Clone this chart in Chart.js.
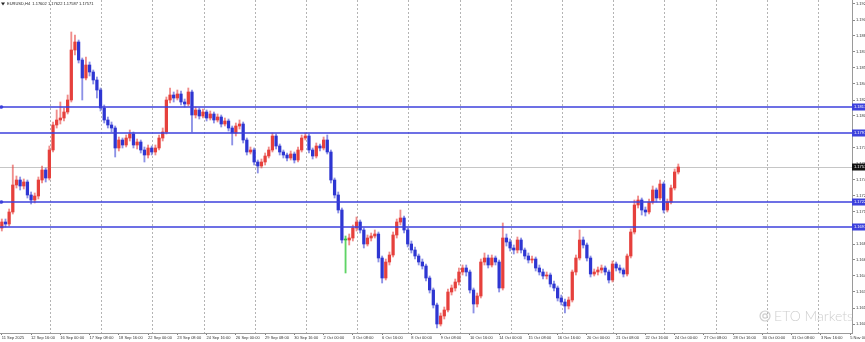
<!DOCTYPE html>
<html>
<head>
<meta charset="utf-8">
<script src="https://cdn.jsdelivr.net/npm/chart.js@4.4.1/dist/chart.umd.min.js"></script>
<style>
html,body{margin:0;padding:0;background:#fff;overflow:hidden}
#wrap{width:865px;height:342px;position:relative}
</style>
</head>
<body>
<div id="wrap"><canvas id="c"></canvas></div>
<script>
const symbolTitle = 'EURUSD,H4  1.17602 1.17622 1.17587 1.17571';
const watermarkText = 'ETO Markets';

const opens = [
1.1696,1.1702,1.1700,1.1712,1.1739,1.1744,1.1738,1.1742,1.1729,1.1724,
1.1728,1.1744,1.1754,1.1746,1.1774,1.1799,1.1804,1.1806,1.1812,1.1824,
1.1874,1.1882,1.1864,1.1846,1.1859,1.1852,1.1844,1.1834,1.1816,1.1804,
1.1799,1.1796,1.1776,1.1784,1.1779,1.1786,1.1790,1.1779,1.1782,1.1774,
1.1769,1.1776,1.1772,1.1776,1.1786,1.1792,1.1824,1.1829,1.1826,1.1830,
1.1822,1.1820,1.1832,1.1809,1.1814,1.1808,1.1812,1.1806,1.1810,1.1804,
1.1807,1.1800,1.1803,1.1796,1.1791,1.1798,1.1800,1.1784,1.1772,1.1774,
1.1762,1.1758,1.1762,1.1768,1.1774,1.1788,1.1778,1.1772,1.1769,1.1766,
1.1770,1.1764,1.1774,1.1786,1.1788,1.1774,1.1768,1.1778,1.1776,1.1784,
1.1772,1.1744,1.1729,1.1714,1.1684,1.1684,1.1686,1.1696,1.1702,1.1694,
1.1680,1.1686,1.1688,1.1690,1.1666,1.1646,1.1662,1.1669,1.1689,1.1702,
1.1706,1.1694,1.1680,1.1674,1.1668,1.1662,1.1658,1.1646,1.1634,1.1619,
1.1600,1.1608,1.1614,1.1632,1.1636,1.1642,1.1652,1.1656,1.1652,1.1634,
1.1620,1.1628,1.1662,1.1666,1.1659,1.1666,1.1662,1.1636,1.1686,1.1682,
1.1676,1.1674,1.1684,1.1674,1.1668,1.1664,1.1665,1.1656,1.1652,1.1648,
1.1649,1.1640,1.1636,1.1626,1.1622,1.1618,1.1624,1.1652,1.1666,1.1684,
1.1679,1.1666,1.1650,1.1652,1.1654,1.1656,1.1652,1.1644,1.1660,1.1656,
1.1654,1.1650,1.1668,1.1692,1.1719,1.1724,1.1714,1.1712,1.1722,1.1734,
1.1726,1.1740,1.1714,1.1722,1.1736,1.1752
];
const highs = [
1.1705,1.1705,1.1715,1.1759,1.1748,1.1747,1.1745,1.1744,1.1732,1.1731,
1.1747,1.1758,1.1756,1.1778,1.1802,1.1814,1.1822,1.1816,1.1829,1.1892,
1.1889,1.1884,1.1866,1.1867,1.1862,1.1854,1.1847,1.1836,1.1819,1.1807,
1.1802,1.1798,1.1787,1.1786,1.1789,1.1794,1.1792,1.1785,1.1784,1.1777,
1.1779,1.1778,1.1779,1.1789,1.1796,1.1827,1.1836,1.1832,1.1834,1.1833,
1.1825,1.1836,1.1834,1.1817,1.1816,1.1815,1.1814,1.1813,1.1812,1.1810,
1.1809,1.1806,1.1805,1.1798,1.1801,1.1804,1.1802,1.1786,1.1777,1.1776,
1.1764,1.1765,1.1771,1.1777,1.1791,1.1790,1.1780,1.1774,1.1771,1.1773,
1.1772,1.1777,1.1789,1.1791,1.1790,1.1776,1.1781,1.1780,1.1787,1.1789,
1.1774,1.1746,1.1732,1.1716,1.1688,1.1690,1.1699,1.1707,1.1704,1.1696,
1.1689,1.1691,1.1694,1.1692,1.1668,1.1665,1.1672,1.1692,1.1705,1.1714,
1.1708,1.1696,1.1683,1.1677,1.1670,1.1665,1.1660,1.1648,1.1636,1.1621,
1.1611,1.1617,1.1635,1.1639,1.1645,1.1656,1.1659,1.1659,1.1654,1.1636,
1.1631,1.1665,1.1671,1.1669,1.1669,1.1668,1.1664,1.1701,1.1690,1.1685,
1.1679,1.1687,1.1686,1.1676,1.1671,1.1668,1.1667,1.1659,1.1655,1.1652,
1.1651,1.1643,1.1638,1.1629,1.1625,1.1627,1.1654,1.1669,1.1694,1.1687,
1.1681,1.1668,1.1655,1.1657,1.1659,1.1658,1.1654,1.1663,1.1662,1.1659,
1.1656,1.1670,1.1695,1.1724,1.1728,1.1726,1.1717,1.1725,1.1738,1.1736,
1.1744,1.1742,1.1725,1.1739,1.1755,1.1760
];
const lows = [
1.1693,1.1697,1.1698,1.1710,1.1736,1.1734,1.1735,1.1726,1.1720,1.1721,
1.1725,1.1741,1.1742,1.1744,1.1772,1.1796,1.1800,1.1803,1.1810,1.1822,
1.1869,1.1861,1.1824,1.1844,1.1848,1.1840,1.1826,1.1813,1.1801,1.1796,
1.1792,1.1767,1.1773,1.1776,1.1777,1.1783,1.1776,1.1775,1.1771,1.1762,
1.1766,1.1769,1.1769,1.1774,1.1783,1.1790,1.1821,1.1822,1.1824,1.1819,
1.1817,1.1818,1.1792,1.1806,1.1805,1.1806,1.1803,1.1804,1.1801,1.1802,
1.1797,1.1798,1.1793,1.1779,1.1788,1.1795,1.1781,1.1769,1.1770,1.1759,
1.1751,1.1756,1.1759,1.1766,1.1772,1.1775,1.1769,1.1766,1.1763,1.1764,
1.1761,1.1762,1.1772,1.1784,1.1771,1.1765,1.1766,1.1773,1.1774,1.1770,
1.1741,1.1726,1.1711,1.1681,1.1651,1.1679,1.1683,1.1693,1.1691,1.1676,
1.1678,1.1683,1.1686,1.1662,1.1641,1.1644,1.1659,1.1667,1.1686,1.1699,
1.1691,1.1677,1.1671,1.1665,1.1659,1.1655,1.1643,1.1631,1.1616,1.1596,
1.1598,1.1605,1.1612,1.1629,1.1633,1.1639,1.1649,1.1648,1.1631,1.1611,
1.1617,1.1626,1.1659,1.1656,1.1657,1.1659,1.1632,1.1634,1.1678,1.1673,
1.1670,1.1671,1.1671,1.1665,1.1661,1.1661,1.1653,1.1649,1.1645,1.1645,
1.1637,1.1633,1.1623,1.1619,1.1611,1.1615,1.1622,1.1649,1.1664,1.1676,
1.1663,1.1647,1.1648,1.1649,1.1651,1.1649,1.1641,1.1642,1.1653,1.1651,
1.1647,1.1648,1.1666,1.1690,1.1716,1.1709,1.1708,1.1710,1.1720,1.1722,
1.1724,1.1711,1.1712,1.1720,1.1734,1.1750
];
const closes = [
1.1702,1.1700,1.1712,1.1739,1.1744,1.1738,1.1742,1.1729,1.1724,1.1728,
1.1744,1.1754,1.1746,1.1774,1.1799,1.1804,1.1806,1.1812,1.1824,1.1874,
1.1882,1.1864,1.1846,1.1859,1.1852,1.1844,1.1834,1.1816,1.1804,1.1799,
1.1796,1.1776,1.1784,1.1779,1.1786,1.1790,1.1779,1.1782,1.1774,1.1769,
1.1776,1.1772,1.1776,1.1786,1.1792,1.1824,1.1829,1.1826,1.1830,1.1822,
1.1820,1.1832,1.1809,1.1814,1.1808,1.1812,1.1806,1.1810,1.1804,1.1807,
1.1800,1.1803,1.1796,1.1791,1.1798,1.1800,1.1784,1.1772,1.1774,1.1762,
1.1758,1.1762,1.1768,1.1774,1.1788,1.1778,1.1772,1.1769,1.1766,1.1770,
1.1764,1.1774,1.1786,1.1788,1.1774,1.1768,1.1778,1.1776,1.1784,1.1772,
1.1744,1.1729,1.1714,1.1684,1.1684,1.1686,1.1696,1.1702,1.1694,1.1680,
1.1686,1.1688,1.1690,1.1666,1.1646,1.1662,1.1669,1.1689,1.1702,1.1706,
1.1694,1.1680,1.1674,1.1668,1.1662,1.1658,1.1646,1.1634,1.1619,1.1600,
1.1608,1.1614,1.1632,1.1636,1.1642,1.1652,1.1656,1.1652,1.1634,1.1620,
1.1628,1.1662,1.1666,1.1659,1.1666,1.1662,1.1636,1.1686,1.1682,1.1676,
1.1674,1.1684,1.1674,1.1668,1.1664,1.1665,1.1656,1.1652,1.1648,1.1649,
1.1640,1.1636,1.1626,1.1622,1.1618,1.1624,1.1652,1.1666,1.1684,1.1679,
1.1666,1.1650,1.1652,1.1654,1.1656,1.1652,1.1644,1.1660,1.1656,1.1654,
1.1650,1.1668,1.1692,1.1719,1.1724,1.1714,1.1712,1.1722,1.1734,1.1726,
1.1740,1.1714,1.1722,1.1736,1.1752,1.1757
];

const levelLines = [1.1817, 1.1791, 1.1722, 1.1697];
const levelDots = [1.1817, 1.1722];

const timeLabels = [
'11 Sep 2025','12 Sep 16:00','16 Sep 00:00','17 Sep 08:00','18 Sep 16:00',
'22 Sep 00:00','23 Sep 08:00','24 Sep 16:00','26 Sep 00:00','29 Sep 08:00',
'30 Sep 16:00','2 Oct 00:00','3 Oct 08:00','6 Oct 16:00','8 Oct 00:00',
'9 Oct 08:00','10 Oct 16:00','14 Oct 00:00','15 Oct 08:00','16 Oct 16:00',
'20 Oct 00:00','21 Oct 08:00','22 Oct 16:00','24 Oct 00:00','27 Oct 08:00',
'28 Oct 16:00','30 Oct 00:00','31 Oct 08:00','3 Nov 16:00','5 Nov 00:00'
];

const slotCount = 233;
const labelEvery = 8;
const gridEvery = 15;
const yMin = 1.1591, yMax = 1.1924, yStep = 0.0016;

const n = Math.min(opens.length, highs.length, lows.length, closes.length);
const slots = Array.from({length: slotCount}, (_, i) => String(i));

const BULL = '#e6403c', BEAR = '#2e36d2', DOJI = '#2fbf3a';
const BULL_W = 'rgba(230,64,60,0.6)', BEAR_W = 'rgba(46,54,210,0.55)', DOJI_W = '#5fd466';
const dir = i => closes[i] > opens[i] ? 1 : (closes[i] < opens[i] ? -1 : 0);
const bodyColors = [], wickColors = [], bodies = [], wicks = [];
for (let i = 0; i < n; i++) {
  const d = dir(i);
  bodyColors.push(d > 0 ? BULL : d < 0 ? BEAR : DOJI);
  wickColors.push(d > 0 ? BULL_W : d < 0 ? BEAR_W : DOJI_W);
  bodies.push([opens[i], closes[i]]);
  wicks.push([lows[i], highs[i]]);
}
const lastPrice = closes[n - 1];

const FONT = 'Liberation Sans';

const overlay = {
  id: 'overlay',
  beforeDatasetsDraw(chart) {
    const {ctx, chartArea: a, scales: {y}} = chart;
    const py = Math.round(y.getPixelForValue(lastPrice)) + 0.5;
    ctx.save();
    ctx.strokeStyle = '#c6c6c6';
    ctx.lineWidth = 1;
    ctx.beginPath(); ctx.moveTo(a.left, py); ctx.lineTo(a.right, py); ctx.stroke();
    ctx.restore();
  },
  afterDatasetsDraw(chart) {
    const {ctx, chartArea: a, scales: {y}} = chart;
    ctx.save();
    ctx.strokeStyle = '#3d41dc';
    ctx.lineWidth = 1.7;
    levelLines.forEach(v => {
      const py = y.getPixelForValue(v);
      ctx.beginPath(); ctx.moveTo(a.left, py); ctx.lineTo(a.right, py); ctx.stroke();
    });
    ctx.fillStyle = '#3d41dc';
    levelDots.forEach(v => {
      const py = y.getPixelForValue(v);
      ctx.beginPath(); ctx.arc(a.left + 1.5, py, 1.8, 0, Math.PI * 2); ctx.fill();
    });
    ctx.restore();
  },
  afterDraw(chart) {
    const {ctx, chartArea: a, scales: {y}, width} = chart;
    ctx.save();
    ctx.font = '4px ' + FONT;
    ctx.textBaseline = 'middle';
    levelLines.forEach(v => {
      const py = y.getPixelForValue(v);
      ctx.fillStyle = '#3d41dc';
      ctx.fillRect(a.right, py - 3.5, width - a.right, 7);
      ctx.fillStyle = '#ffffff';
      ctx.fillText(v.toFixed(5), a.right + 2, py);
    });
    const pp = y.getPixelForValue(lastPrice);
    ctx.fillStyle = '#111111';
    ctx.fillRect(a.right, pp - 3.5, width - a.right, 7);
    ctx.fillStyle = '#ffffff';
    ctx.fillText(lastPrice.toFixed(5), a.right + 2, pp);

    ctx.fillStyle = '#222';
    ctx.beginPath(); ctx.moveTo(1, 2.5); ctx.lineTo(5, 2.5); ctx.lineTo(3, 5.5); ctx.closePath(); ctx.fill();
    ctx.font = '4px ' + FONT;
    ctx.textAlign = 'left';
    ctx.fillText(symbolTitle, 7, 4.2);

    ctx.font = '300 14px Lato';
    ctx.textAlign = 'right';
    ctx.fillStyle = '#cfcfcf';
    ctx.fillText(watermarkText, 853, 316);
    const tw = ctx.measureText(watermarkText).width;
    ctx.strokeStyle = '#cfcfcf';
    ctx.lineWidth = 1.2;
    ctx.beginPath(); ctx.arc(853 - tw - 9, 316, 5, 0, Math.PI * 2); ctx.stroke();
    ctx.beginPath(); ctx.arc(853 - tw - 9, 316, 2.2, 0, Math.PI * 2); ctx.stroke();
    ctx.restore();
  }
};

new Chart(document.getElementById('c'), {
  type: 'bar',
  data: {
    labels: slots,
    datasets: [
      {
        label: 'bodies', data: bodies, backgroundColor: bodyColors,
        barThickness: 2.6, minBarLength: 1, borderWidth: 0, grouped: false, order: 0,
        xAxisID: 'x', yAxisID: 'y'
      },
      {
        label: 'wicks', data: wicks, backgroundColor: wickColors,
        barThickness: 1.2, borderWidth: 0, grouped: false, order: 1,
        xAxisID: 'x', yAxisID: 'y'
      }
    ]
  },
  options: {
    responsive: true,
    maintainAspectRatio: false,
    animation: false,
    layout: {padding: 0},
    plugins: {legend: {display: false}, title: {display: false}, tooltip: {enabled: false}},
    scales: {
      x: {
        type: 'category',
        position: 'bottom',
        offset: true,
        grid: {
          drawOnChartArea: false, tickLength: 2, offset: false,
          color: c => (c.index % labelEvery === 0 ? '#7a7a7a' : 'rgba(0,0,0,0)')
        },
        border: {display: true, color: '#9a9a9a', width: 1},
        ticks: {
          autoSkip: false, maxRotation: 0, minRotation: 0, align: 'start', padding: 0,
          color: '#333', font: {size: 4, family: FONT},
          callback: (v, i) => (i % labelEvery === 0 ? (timeLabels[i / labelEvery] || '') : '')
        },
        afterFit: s => { s.height = 9; s.paddingLeft = 0; s.paddingRight = 0; }
      },
      xg: {
        type: 'linear',
        position: 'bottom',
        min: 1, max: slotCount + 1,
        grid: {color: '#b4b4b4', lineWidth: 1, drawTicks: false},
        border: {display: false, dash: [2, 2]},
        ticks: {display: false, stepSize: gridEvery, includeBounds: false},
        afterFit: s => { s.height = 0; s.paddingLeft = 0; s.paddingRight = 0; }
      },
      y: {
        type: 'linear',
        position: 'right',
        min: yMin, max: yMax,
        grid: {drawOnChartArea: false, tickLength: 3, color: '#8a8a8a'},
        border: {display: true, color: '#9a9a9a', width: 1},
        ticks: {
          stepSize: yStep, includeBounds: false, padding: 1,
          color: '#333', font: {size: 4, family: FONT},
          callback: v => Number(v).toFixed(5)
        },
        afterFit: s => { s.width = 13; s.paddingTop = 0; s.paddingBottom = 0; }
      }
    }
  },
  plugins: [overlay]
});
</script>
</body>
</html>
